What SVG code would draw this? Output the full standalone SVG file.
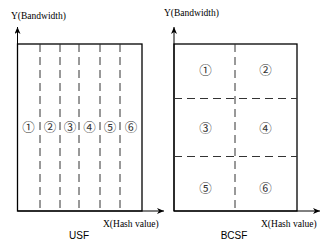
<svg xmlns="http://www.w3.org/2000/svg" width="327" height="252" viewBox="0 0 327 252">
<style>
.box{fill:none;stroke:#000;stroke-width:1.3}
.axis{fill:none;stroke:#000;stroke-width:1}
.dash{fill:none;stroke:#333;stroke-width:1;stroke-dasharray:8 5}
.lab{font-family:"Liberation Serif","Times New Roman",serif;font-size:9.5px;fill:#000}
.title{font-family:"Liberation Sans",Arial,sans-serif;font-size:10px;fill:#000;text-anchor:middle}
.num{font-family:"Noto Sans CJK JP","Noto Sans CJK SC",sans-serif;font-size:12.5px;fill:#333;text-anchor:middle}
</style>
<defs>
<marker id="arr" markerWidth="8" markerHeight="6" refX="7" refY="3" orient="auto" markerUnits="userSpaceOnUse">
<path d="M0,0 L7,3 L0,6 L2,3 Z" fill="#000"/>
</marker>
</defs>
<g id="connectors">
<line class="axis" x1="17.5" y1="211" x2="17.5" y2="27" marker-end="url(#arr)"/>
<line class="axis" x1="17.5" y1="211" x2="164" y2="211" marker-end="url(#arr)"/>
<line class="axis" x1="174" y1="211" x2="174" y2="27" marker-end="url(#arr)"/>
<line class="axis" x1="174" y1="211" x2="320" y2="211" marker-end="url(#arr)"/>
</g>
<g id="usf">
<rect class="box" x="17.5" y="44" width="124.5" height="167"/>
<line class="dash" x1="40" y1="44" x2="40" y2="211"/>
<line class="dash" x1="60" y1="44" x2="60" y2="211"/>
<line class="dash" x1="79" y1="44" x2="79" y2="211"/>
<line class="dash" x1="100" y1="44" x2="100" y2="211"/>
<line class="dash" x1="120" y1="44" x2="120" y2="211"/>
<text class="num" x="28.5" y="131.5">①</text>
<text class="num" x="50" y="131.5">②</text>
<text class="num" x="70" y="131.5">③</text>
<text class="num" x="89.5" y="131.5">④</text>
<text class="num" x="110" y="131.5">⑤</text>
<text class="num" x="131" y="131.5">⑥</text>
<text class="lab" x="11" y="19">Y(Bandwidth)</text>
<text class="lab" x="103" y="227">X(Hash value)</text>
<text class="title" x="79" y="239">USF</text>
</g>
<g id="bcsf">
<rect class="box" x="174" y="44" width="123" height="167"/>
<line class="dash" x1="235" y1="44" x2="235" y2="211"/>
<line class="dash" x1="174" y1="98.5" x2="297" y2="98.5"/>
<line class="dash" x1="174" y1="156.5" x2="297" y2="156.5"/>
<text class="num" x="205.5" y="74.5">①</text>
<text class="num" x="265.5" y="74.5">②</text>
<text class="num" x="205.5" y="132.5">③</text>
<text class="num" x="265.5" y="132.5">④</text>
<text class="num" x="205.5" y="192.5">⑤</text>
<text class="num" x="265.5" y="192.5">⑥</text>
<text class="lab" x="164" y="16">Y(Bandwidth)</text>
<text class="lab" x="261" y="227">X(Hash value)</text>
<text class="title" x="234" y="239">BCSF</text>
</g>
</svg>
